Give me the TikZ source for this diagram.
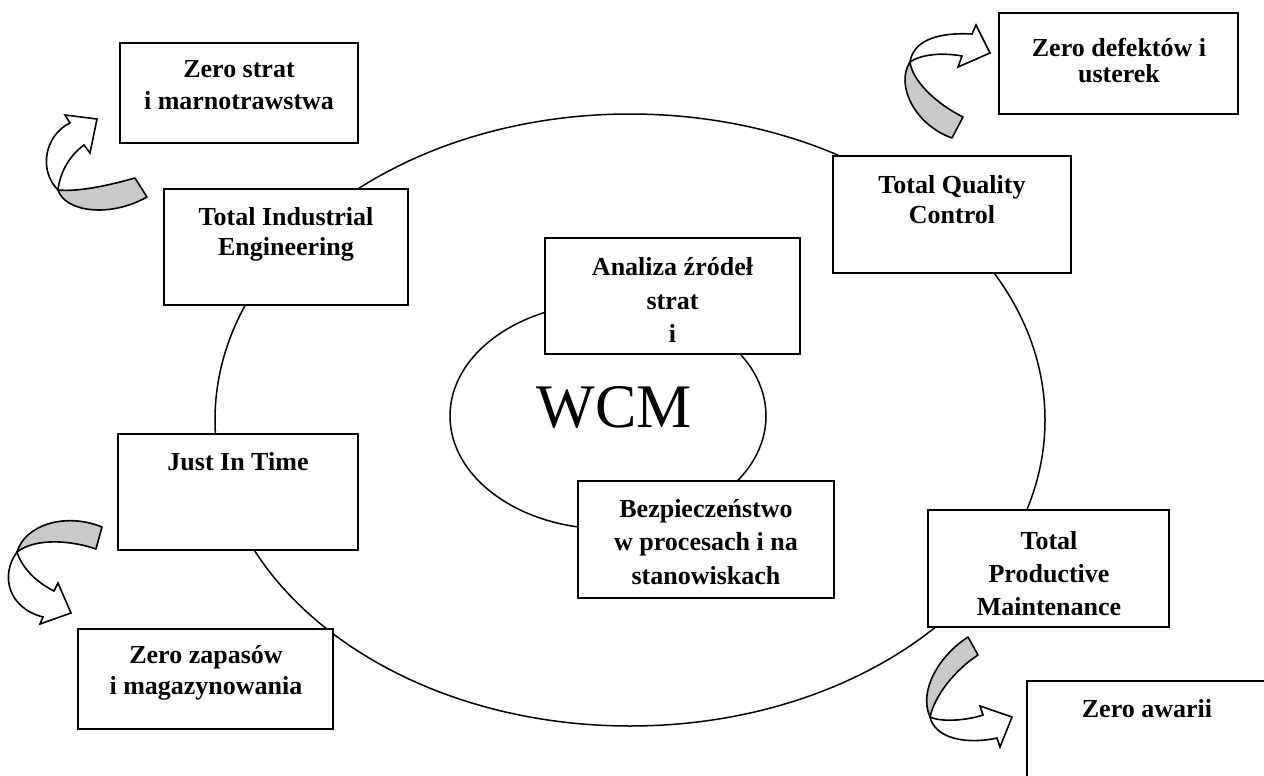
\documentclass[tikz,border=0pt]{standalone}
\usepackage{fontspec}
\setmainfont{Liberation Serif}
\begin{document}
\begin{tikzpicture}[x=1pt,y=-1pt,
  box/.style={draw=black, line width=2.2pt, fill=white, inner sep=0pt},
  lbl/.style={font=\bfseries\fontsize{26}{#1}\selectfont, align=center, inner sep=0pt},
  lbl/.default=33,
  ring/.style={draw=black, line width=1.5pt},
  band/.style={draw=black, line width=1.6pt, fill=gray!42, line join=round},
  head/.style={draw=black, line width=1.6pt, fill=white, line join=miter}]
\useasboundingbox (0,0) rectangle (1264,776);
\clip (0,0) rectangle (1264,776);
\fill[white] (0,0) rectangle (1264,776);

% rings
\draw[ring] (630,420) ellipse [x radius=415pt, y radius=306pt];
\draw[ring] (608,416) ellipse [x radius=158pt, y radius=113pt];

% boxes
\node[box, minimum width=238pt, minimum height=100pt] (zs)  at (239,93) {};
\node[box, minimum width=244pt, minimum height=116pt] (tie) at (286,247) {};
\node[box, minimum width=238pt, minimum height=117pt] (tqc) at (952,214.5) {};
\node[box, minimum width=239pt, minimum height=101pt] (zd)  at (1118.5,63.5) {};
\node[box, minimum width=255pt, minimum height=116pt] (an)  at (672.5,296) {};
\node[box, minimum width=240pt, minimum height=116pt] (jit) at (238,492) {};
\node[box, minimum width=256pt, minimum height=117pt] (bz)  at (706,539.5) {};
\node[box, minimum width=241pt, minimum height=117pt] (tpm) at (1048.5,568.5) {};
\node[box, minimum width=255pt, minimum height=100pt] (zz)  at (205.5,679) {};
\node[box, minimum width=240pt, minimum height=119pt] (za)  at (1147,740.5) {};

% texts
\node[lbl=32] (zst)  at (239,85.4) {Zero strat\\i marnotrawstwa};
\node[lbl=30] (tiet) at (286,233.9) {Total Industrial\\Engineering};
\node[lbl=30] (tqct) at (952,199.2) {Total Quality\\Control};
\node[lbl=26] (zdt)  at (1119,60.8) {Zero defektów i\\usterek};
\node[lbl=33.5] (ant) at (672.5,300.3) {Analiza źródeł\\strat\\i};
\node[lbl, anchor=base] (jitt) at (238,470) {Just In Time};
\node[lbl=33.3] (bzt) at (706,542) {Bezpieczeństwo\\w procesach i na\\stanowiskach};
\node[lbl=33] (tpmt) at (1049,573.2) {Total\\Productive\\Maintenance};
\node[lbl=31] (zzt)  at (206,673) {Zero zapasów\\i magazynowania};
\node[lbl, anchor=base] (zat) at (1147,717) {Zero awarii};
\node[font=\fontsize{62}{62}\selectfont, inner sep=0pt] (wcm) at (614,407) {WCM};

% curved arrows
% A: Total Quality Control -> Zero defektow
\draw[band] (910,62) .. controls (895,85) and (915,125) .. (952,138) -- (963,117) .. controls (935,103) and (912,80) .. cycle;
\draw[head] (910,62) .. controls (913,42) and (935,32) .. (972,34) -- (976,25) -- (990,53) -- (958,67) -- (962,56) .. controls (940,52) and (920,55) .. cycle;
% B: Total Industrial Engineering -> Zero strat
\draw[band] (58,190) .. controls (65,212) and (110,218) .. (147,197) -- (135,178) .. controls (110,185) and (80,192) .. cycle;
\draw[head] (58,190) .. controls (38,170) and (45,135) .. (70,123) -- (65,115) -- (97,119) -- (90,153) -- (84,145) .. controls (70,155) and (60,172) .. cycle;
% C: Just In Time -> Zero zapasow
\draw[band] (17,552) .. controls (25,525) and (65,512) .. (102,527) -- (96,549) .. controls (70,540) and (35,538) .. cycle;
\draw[head] (17,552) .. controls (0,575) and (8,608) .. (43,617) -- (40,624) -- (71,613) -- (58,583) -- (54,591) .. controls (36,582) and (22,568) .. cycle;
% D: Total Productive Maintenance -> Zero awarii
\draw[band] (968,637) .. controls (940,655) and (918,690) .. (930,717) .. controls (935,695) and (955,670) .. (978,655) -- cycle;
\draw[head] (930,717) .. controls (935,738) and (965,745) .. (997,738) -- (1000,747) -- (1012,717) -- (980,706) -- (983,715) .. controls (965,721) and (940,722) .. cycle;
\end{tikzpicture}
\end{document}
